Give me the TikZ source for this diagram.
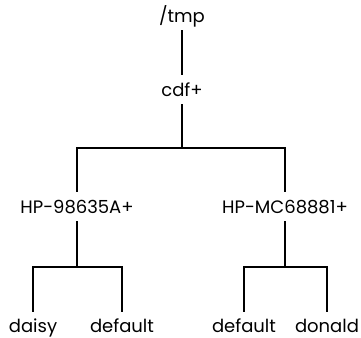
\documentclass[tikz,border=0pt]{standalone}
\usepackage{fontspec}
\setmainfont{Poppins}
\begin{document}
\begin{tikzpicture}[x=1pt,y=1pt,
  dirname/.style={inner sep=0pt, anchor=base, text height=22pt, text depth=7pt,
    font=\fontsize{18}{18}\selectfont},
  leafname/.style={dirname, text height=20pt},
  branch/.style={line width=1.6pt}]
  \useasboundingbox (0,0) rectangle (361,337);
  % directory names
  \node[dirname] (tmp) at (182,314) {/tmp};
  \node[dirname] (cdf) at (182,240) {cdf+};
  \node[dirname] (hpa) at (77,123) {HP-98635A+};
  \node[dirname] (hpb) at (285,123) {HP-MC68881+};
  \node[leafname] (daisy) at (33,5) {daisy};
  \node[leafname] (defa) at (122,5) {default};
  \node[leafname] (defb) at (244,5) {default};
  \node[leafname] (donald) at (327,5) {donald};
  % junction points of the branches
  \coordinate (j0) at (182,189);
  \coordinate (ja) at (77,70);
  \coordinate (jb) at (285,70);
  % connectors
  \draw[branch] (tmp.south) -- (cdf.north);
  \draw[branch] (cdf.south) -- (j0);
  \draw[branch] (hpa.north) |- (j0) -| (hpb.north);
  \draw[branch] (hpa.south) -- (ja);
  \draw[branch] (daisy.north) |- (ja) -| (defa.north);
  \draw[branch] (hpb.south) -- (jb);
  \draw[branch] (defb.north) |- (jb) -| (donald.north);
\end{tikzpicture}
\end{document}
